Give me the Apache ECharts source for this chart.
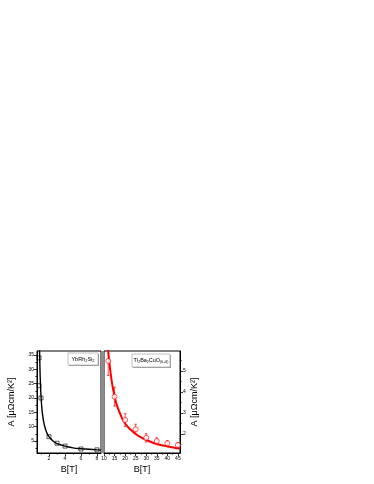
<!DOCTYPE html>
<html>
<head>
<meta charset="utf-8">
<script src="https://cdn.jsdelivr.net/npm/echarts@6/dist/echarts.min.js"></script>
<style>
  html, body { margin: 0; padding: 0; background: #fff; }
  #chart { width: 374px; height: 484px; }
</style>
</head>
<body>
<div id="chart"></div>
<script>
// left panel: YbRh2Si2, A coefficient vs field
const ybField = [0.75, 0.75, 1.0, 2.0, 3.0, 4.0, 6.0, 8.0];
const ybA = [34.0, 24.3, 20.0, 6.5, 4.2, 3.2, 2.2, 1.9];
// fit curve
const ybFitField = [0.81, 0.83, 0.85, 0.9, 0.95, 1.0, 1.1, 1.2, 1.3, 1.4, 1.6, 1.8, 2.0, 2.5, 3.0, 3.5, 4.0, 5.0, 6.0, 7.0, 8.0, 8.5];
const ybFitA = [38.5, 35.3, 32.6, 27.3, 23.5, 20.7, 16.7, 14.1, 12.2, 10.8, 8.8, 7.4, 6.5, 5.0, 4.1, 3.6, 3.2, 2.6, 2.3, 2.1, 1.9, 1.8];

// right panel: Tl2Ba2CuO6+d
const tlField = [12, 15, 20, 25, 30, 35, 40, 45];
const tlA = [5.48, 3.78, 2.67, 2.23, 1.82, 1.67, 1.56, 1.48];
const tlErr = [0.7, 0.45, 0.3, 0.24, 0.2, 0.15, 0.13, 0.12];
const tlFitField = [11.8, 12.5, 13, 14, 15, 16, 18, 20, 22.5, 25, 27.5, 30, 35, 40, 45, 46];
const tlFitA = [6.1, 5.47, 5.0, 4.3, 3.8, 3.4, 2.88, 2.5, 2.22, 2.0, 1.84, 1.72, 1.53, 1.41, 1.32, 1.3];

// ticks
const ybXTicks = [2, 4, 6, 8];
const ybXMinor = [1, 3, 5, 7];
const ybYTicks = [5, 10, 15, 20, 25, 30, 35];
const ybYMinor = [2.5, 7.5, 12.5, 17.5, 22.5, 27.5, 32.5];
const tlXTicks = [10, 15, 20, 25, 30, 35, 40, 45];
const tlXMinor = [12.5, 17.5, 22.5, 27.5, 32.5, 37.5, 42.5];
const tlYTicks = [2, 3, 4, 5];
const tlYMinor = [1.5, 2.5, 3.5, 4.5, 5.5];

const font = 'Liberation Sans, Arial, sans-serif';
const black = '#000';
const red = '#ff0000';

function mainAxis(grid, position, min, max, ticks, extra) {
  return Object.assign({
    type: 'value',
    gridIndex: grid,
    position: position,
    min: min,
    max: max,
    axisLine: { show: true, lineStyle: { color: black, width: 1 } },
    axisTick: { show: true, customValues: ticks, length: 3, lineStyle: { color: black, width: 0.8 } },
    axisLabel: { customValues: ticks, fontSize: 5, color: black, fontFamily: font, margin: 3 },
    splitLine: { show: false },
    nameTextStyle: { fontFamily: font, color: black }
  }, extra || {});
}

function minorAxis(grid, position, min, max, ticks) {
  return {
    type: 'value',
    gridIndex: grid,
    position: position,
    min: min,
    max: max,
    axisLine: { show: false },
    axisTick: { show: true, customValues: ticks, length: 1.6, lineStyle: { color: black, width: 0.8 } },
    axisLabel: { show: false },
    splitLine: { show: false }
  };
}

const chart = echarts.init(document.getElementById('chart'), null, { renderer: 'canvas' });

chart.setOption({
  animation: false,
  backgroundColor: '#fff',
  grid: [
    { left: 37, top: 351, width: 64, height: 102, show: true, borderColor: black, borderWidth: 1, backgroundColor: 'transparent' },
    { left: 104, top: 351, width: 76, height: 102, show: true, borderColor: black, borderWidth: 1, backgroundColor: 'transparent' }
  ],
  xAxis: [
    mainAxis(0, 'bottom', 0.5, 8.5, ybXTicks, {
      name: 'B[T]', nameLocation: 'middle', nameGap: 12,
      nameTextStyle: { fontFamily: font, color: black, fontSize: 9 }
    }),
    minorAxis(0, 'bottom', 0.5, 8.5, ybXMinor),
    mainAxis(1, 'bottom', 10, 46, tlXTicks, {
      name: 'B[T]', nameLocation: 'middle', nameGap: 12,
      nameTextStyle: { fontFamily: font, color: black, fontSize: 9 }
    }),
    minorAxis(1, 'bottom', 10, 46, tlXMinor)
  ],
  yAxis: [
    mainAxis(0, 'left', 0.8, 36.4, ybYTicks, {
      name: 'A [μΩcm/K²]', nameLocation: 'middle', nameGap: 21,
      nameTextStyle: { fontFamily: font, color: black, fontSize: 9 }
    }),
    minorAxis(0, 'left', 0.8, 36.4, ybYMinor),
    mainAxis(1, 'right', 1.1, 5.95, tlYTicks, {
      name: 'A [μΩcm/K²]', nameLocation: 'middle', nameGap: 10, nameRotate: 90,
      nameTextStyle: { fontFamily: font, color: black, fontSize: 9 }
    }),
    minorAxis(1, 'right', 1.1, 5.95, tlYMinor)
  ],
  graphic: [
    // gray band between the two panels
    { type: 'rect', shape: { x: 101, y: 351, width: 3, height: 102 }, style: { fill: '#8c8c8c' }, z: 1 },
    // legend box left
    { type: 'rect', shape: { x: 69, y: 354, width: 30, height: 12 }, style: { fill: '#9a9a9a' }, z: 10 },
    { type: 'rect', shape: { x: 68, y: 353, width: 30, height: 12 }, style: { fill: '#fff', stroke: '#b0b0b0', lineWidth: 0.8 }, z: 11 },
    {
      type: 'text', x: 83, y: 359, z: 12,
      style: {
        text: '{n|YbRh}{s|2}{n|Si}{s|2}',
        align: 'center', verticalAlign: 'middle',
        rich: {
          n: { fontSize: 5.5, fontFamily: font, fill: black, lineHeight: 8 },
          s: { fontSize: 4, fontFamily: font, fill: black, lineHeight: 8, verticalAlign: 'bottom', padding: [3, 0, 0, 0] }
        }
      }
    },
    // legend box right
    { type: 'rect', shape: { x: 133, y: 355, width: 38, height: 13 }, style: { fill: '#9a9a9a' }, z: 10 },
    { type: 'rect', shape: { x: 132, y: 354, width: 38, height: 13 }, style: { fill: '#fff', stroke: '#b0b0b0', lineWidth: 0.8 }, z: 11 },
    {
      type: 'text', x: 151, y: 360.5, z: 12,
      style: {
        text: '{n|Tl}{s|2}{n|Ba}{s|2}{n|CuO}{s|(6+δ)}',
        align: 'center', verticalAlign: 'middle',
        rich: {
          n: { fontSize: 5.5, fontFamily: font, fill: black, lineHeight: 8 },
          s: { fontSize: 3.5, fontFamily: font, fill: black, lineHeight: 8, verticalAlign: 'bottom', padding: [3, 0, 0, 0] }
        }
      }
    }
  ],
  series: [
    {
      name: 'YbRh2Si2 fit',
      type: 'line',
      xAxisIndex: 0,
      yAxisIndex: 0,
      data: ybFitField.map((b, i) => [b, ybFitA[i]]),
      smooth: true,
      showSymbol: false,
      clip: true,
      lineStyle: { color: black, width: 1.4 },
      z: 3
    },
    {
      name: 'YbRh2Si2',
      type: 'scatter',
      xAxisIndex: 0,
      yAxisIndex: 0,
      data: ybField.map((b, i) => [b, ybA[i]]),
      symbol: 'rect',
      symbolSize: 4,
      itemStyle: { color: 'rgba(0,0,0,0)', borderColor: black, borderWidth: 0.8 },
      z: 4
    },
    {
      name: 'Tl2201 fit',
      type: 'line',
      xAxisIndex: 2,
      yAxisIndex: 2,
      data: tlFitField.map((b, i) => [b, tlFitA[i]]),
      smooth: true,
      showSymbol: false,
      clip: true,
      lineStyle: { color: red, width: 2 },
      z: 3
    },
    {
      name: 'Tl2201 err',
      type: 'custom',
      xAxisIndex: 2,
      yAxisIndex: 2,
      clip: true,
      encode: { x: 0, y: [1, 2] },
      data: tlField.map((b, i) => [b, tlA[i] - tlErr[i], tlA[i] + tlErr[i]]),
      renderItem: function (params, api) {
        const lo = api.coord([api.value(0), api.value(1)]);
        const hi = api.coord([api.value(0), api.value(2)]);
        const w = 1.3;
        const st = { stroke: red, lineWidth: 0.7 };
        return {
          type: 'group',
          children: [
            { type: 'line', shape: { x1: lo[0], y1: lo[1], x2: hi[0], y2: hi[1] }, style: st },
            { type: 'line', shape: { x1: lo[0] - w, y1: lo[1], x2: lo[0] + w, y2: lo[1] }, style: st },
            { type: 'line', shape: { x1: hi[0] - w, y1: hi[1], x2: hi[0] + w, y2: hi[1] }, style: st }
          ]
        };
      },
      z: 4
    },
    {
      name: 'Tl2201',
      type: 'scatter',
      xAxisIndex: 2,
      yAxisIndex: 2,
      data: tlField.map((b, i) => [b, tlA[i]]),
      symbol: 'circle',
      symbolSize: 5,
      itemStyle: { color: '#fff', borderColor: red, borderWidth: 0.8 },
      z: 5
    }
  ]
});
</script>
</body>
</html>
